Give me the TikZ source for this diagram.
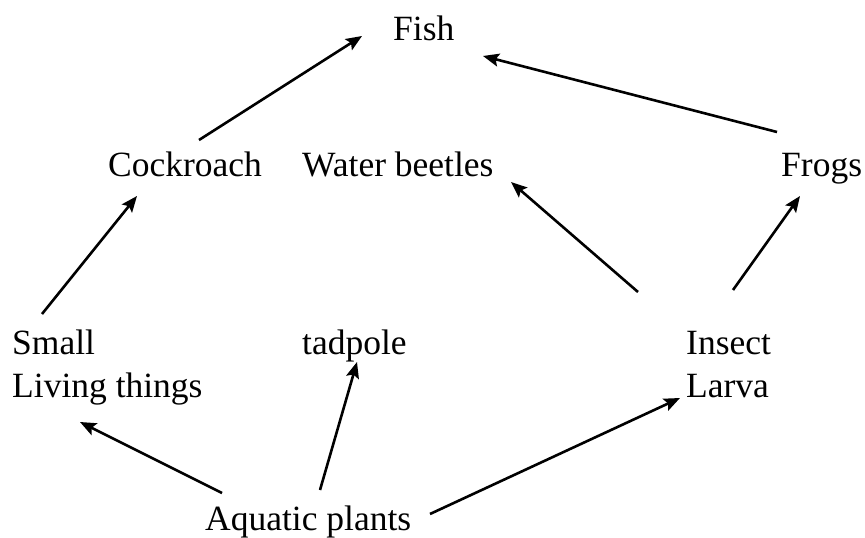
\documentclass[tikz,border=0pt]{standalone}
\usepackage{fontspec}
\setmainfont{Liberation Serif}
\usetikzlibrary{arrows.meta}
\begin{document}
\begin{tikzpicture}[x=1pt,y=-1pt,
  lbl/.style={inner sep=0pt,anchor=base west,font=\fontsize{35.5}{42}\selectfont},
  arr/.style={line width=2.6pt,-{Stealth[length=16pt,width=13pt,inset=3pt]}}]
\useasboundingbox (0,0) rectangle (865,538);
\node[lbl] (fish) at (393,40) {Fish};
\node[lbl] (cock) at (108,176) {Cockroach};
\node[lbl] (water) at (302,176) {Water beetles};
\node[lbl] (frogs) at (781,176) {Frogs};
\node[lbl] (small) at (12,354) {Small};
\node[lbl] (living) at (12,397) {Living things};
\node[lbl] (tad) at (302,354) {tadpole};
\node[lbl] (insect) at (686,354) {Insect};
\node[lbl] (larva) at (686,397) {Larva};
\node[lbl] (aqua) at (205,530) {Aquatic plants};
% connector end points
\coordinate (c1) at (199,140); \coordinate (f1) at (362,36);
\coordinate (c2) at (777,132); \coordinate (f2) at (483,56);
\coordinate (c3) at (42,314);  \coordinate (f3) at (137,196);
\coordinate (c4) at (638,292); \coordinate (f4) at (511,182);
\coordinate (c5) at (733,290); \coordinate (f5) at (800,196);
\coordinate (c6) at (222,493); \coordinate (f6) at (80,422);
\coordinate (c7) at (320,490); \coordinate (f7) at (357,362);
\coordinate (c8) at (430,514); \coordinate (f8) at (680,398);
\draw[arr] (c1) -- (f1);
\draw[arr] (c2) -- (f2);
\draw[arr] (c3) -- (f3);
\draw[arr] (c4) -- (f4);
\draw[arr] (c5) -- (f5);
\draw[arr] (c6) -- (f6);
\draw[arr] (c7) -- (f7);
\draw[arr] (c8) -- (f8);
\end{tikzpicture}
\end{document}
